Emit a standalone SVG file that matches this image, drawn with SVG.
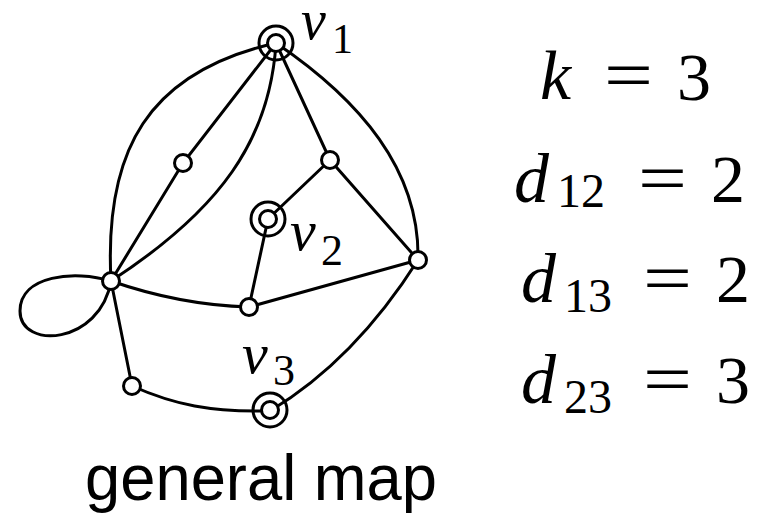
<svg xmlns="http://www.w3.org/2000/svg" width="769" height="514" viewBox="0 0 769 514">
<defs>
<circle id="dot" r="8.5" fill="#fff" stroke="#000" stroke-width="3"/>
<circle id="ring" r="17" fill="none" stroke="#000" stroke-width="3"/>
</defs>
<rect width="769" height="514" fill="#fff"/>
<g id="edges" fill="none" stroke="#000" stroke-width="3" stroke-linecap="round">
<path d="M276,43 C148,72 104,150 111,281"/>
<path d="M276,43 L183,163 L111,281"/>
<path d="M276,43 C270,140 220,210 111,281"/>
<path d="M276,43 L330,160 L268,219"/>
<path d="M330,160 L418,260"/>
<path d="M276,43 C360,100 420,170 418,260"/>
<path d="M268,219 L249,307 L418,260"/>
<path d="M111,281 Q180,305 249,307"/>
<path d="M111,281 L132,386"/>
<path d="M132,386 C175,405 210,412 270,411"/>
<path d="M418,260 C380,320 330,375 270,411"/>
<path d="M111,281 C75,270 20,275 20,311 C20,350 100,345 111,281"/>
</g>
<g id="v1"><use href="#ring" x="276" y="43"/><use href="#dot" x="276" y="43"/>
<text font-family="Liberation Serif, serif" x="301" y="39" font-size="56" font-style="italic">v</text><text font-family="Liberation Serif, serif" x="332" y="53" font-size="42">1</text></g>
<g id="v2"><use href="#ring" x="268" y="219"/><use href="#dot" x="268" y="219"/>
<text font-family="Liberation Serif, serif" x="290" y="250" font-size="58" font-style="italic">v</text><text font-family="Liberation Serif, serif" x="321" y="265" font-size="44">2</text></g>
<g id="v3"><use href="#ring" x="270" y="410"/><use href="#dot" x="270" y="410"/>
<text font-family="Liberation Serif, serif" x="242" y="373" font-size="58" font-style="italic">v</text><text font-family="Liberation Serif, serif" x="273" y="385" font-size="44">3</text></g>
<g id="nA"><use href="#dot" x="183" y="163"/></g>
<g id="nB"><use href="#dot" x="330" y="160"/></g>
<g id="nC"><use href="#dot" x="418" y="260"/></g>
<g id="nD"><use href="#dot" x="111" y="281"/></g>
<g id="nE"><use href="#dot" x="249" y="307"/></g>
<g id="nF"><use href="#dot" x="132" y="386"/></g>
<g id="label"><text font-family="Liberation Sans, sans-serif" x="85" y="500" font-size="64" textLength="352" lengthAdjust="spacingAndGlyphs">general map</text></g>
<g id="eqs" font-family="Liberation Serif, serif">
<text font-style="italic" x="540" y="99" font-size="70">k</text>
<text x="604" y="99" font-size="70" textLength="49" lengthAdjust="spacingAndGlyphs">=</text>
<text x="677" y="100" font-size="68">3</text>
<text font-style="italic" x="514" y="202" font-size="70">d</text>
<text x="557" y="207" font-size="48">12</text>
<text x="638" y="202" font-size="70" textLength="49" lengthAdjust="spacingAndGlyphs">=</text>
<text x="711" y="202" font-size="68">2</text>
<text font-style="italic" x="521" y="302" font-size="70">d</text>
<text x="564" y="312" font-size="48">13</text>
<text x="643" y="302" font-size="70" textLength="49" lengthAdjust="spacingAndGlyphs">=</text>
<text x="716" y="302" font-size="68">2</text>
<text font-style="italic" x="521" y="403" font-size="70">d</text>
<text x="564" y="413" font-size="48">23</text>
<text x="643" y="403" font-size="70" textLength="49" lengthAdjust="spacingAndGlyphs">=</text>
<text x="716" y="403" font-size="68">3</text>
</g>
</svg>
